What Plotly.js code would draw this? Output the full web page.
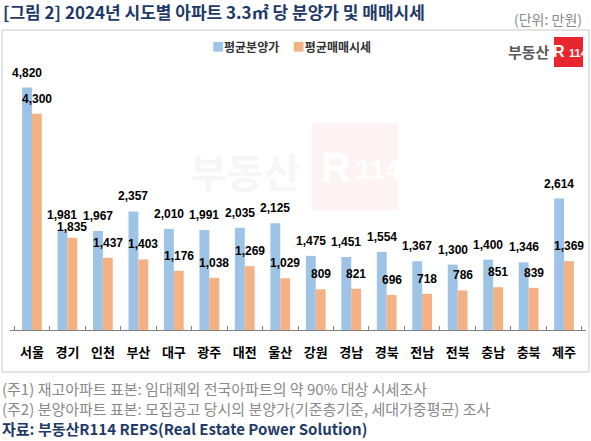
<!DOCTYPE html>
<html><head><meta charset="utf-8">
<script src="https://cdn.plot.ly/plotly-3.0.1.min.js"></script>
<style>html,body{margin:0;padding:0;background:#fff}#c{width:591px;height:441px}</style>
</head><body><div id="c"></div>
<script>
var categories = ['서울','경기','인천','부산','대구','광주','대전','울산','강원','경남','경북','전남','전북','충남','충북','제주'];
var salePrice = [4820,1981,1967,2357,2010,1991,2035,2125,1475,1451,1554,1367,1300,1400,1346,2614];
var marketPrice = [4300,1835,1437,1403,1176,1038,1269,1029,809,821,696,718,786,851,839,1369];
var seriesNames = ['평균분양가','평균매매시세'];

var W=591,H=441, L=10, R=586, T=68, B=330, YMAX=5210;
function px(x){return (x-L)/(R-L);}
function py(y){return (B-y)/(B-T);}
var KR = '"Noto Sans CJK KR", "Noto Sans", sans-serif';
var NUM = '"Liberation Sans", Arial, sans-serif';
var blue='#9DC3E6', orange='#F4B183';
var bargap=0.444, off=(1-bargap)/4;
var pxPerUnit=(B-T)/YMAX, LAB=15, MINSEP=12;

var traces=[
 {type:'bar',name:seriesNames[0],x:categories,y:salePrice,marker:{color:blue},hoverinfo:'skip'},
 {type:'bar',name:seriesNames[1],x:categories,y:marketPrice,marker:{color:orange},hoverinfo:'skip'}
];

var ann=[];
function fmt(v){return v.toLocaleString('en-US');}
var labFont={family:NUM,size:12,color:'#000',weight:'bold'};
salePrice.forEach(function(v,i){
  ann.push({x:i-off,y:v,xref:'x',yref:'y',text:fmt(v),showarrow:false,yanchor:'middle',yshift:LAB,font:labFont});
});
marketPrice.forEach(function(v,i){
  var gap=(salePrice[i]-v)*pxPerUnit, ys=LAB;
  if(gap<MINSEP) ys=LAB-(MINSEP-gap);
  ann.push({x:i+off,y:v,xref:'x',yref:'y',text:fmt(v),showarrow:false,yanchor:'middle',yshift:ys,font:labFont});
});
function pa(x,y,text,font,xa){
  ann.push({xref:'paper',yref:'paper',x:px(x),y:py(y),xanchor:xa||'left',yanchor:'middle',showarrow:false,text:text,font:font});
}
// legend
pa(210,47,'<span style="color:'+blue+'">■</span>'+seriesNames[0]+'\u00a0\u00a0\u00a0\u00a0\u00a0<span style="color:'+orange+'">■</span>'+seriesNames[1],
  {family:KR,size:12,color:'#333',weight:'bold'});
// unit
pa(584,19,'(단위: 만원)',{family:KR,size:14,color:'#8a8a8a'},'right');
// watermark
pa(245,171,'<b>부동산</b>',{family:KR,size:40,color:'#f6f6f6'},'center');
pa(353,167,'R',{family:NUM,size:42,color:'#ffffff',weight:'bold'},'right');
pa(354,169,'114',{family:NUM,size:28,color:'#ffffff',weight:'bold'},'left');
// logo
pa(552,52,'<b>부동산</b>',{family:KR,size:15,color:'#5a5a5a'},'right');
pa(567,52,'R',{family:NUM,size:16,color:'#ffffff',weight:'bold'},'right');
pa(567,53,'114',{family:NUM,size:11,color:'#ffffff',weight:'bold'},'left');
// notes
pa(0,388,'(주1) 재고아파트 표본: 임대제외 전국아파트의 약 90% 대상 시세조사',{family:KR,size:15,color:'#8a8a8a'});
pa(0,408,'(주2) 분양아파트 표본: 모집공고 당시의 분양가(기준층기준, 세대가중평균) 조사',{family:KR,size:15,color:'#8a8a8a'});
pa(0,428,'<b>자료: 부동산R114 REPS(Real Estate Power Solution)</b>',{family:KR,size:15,color:'#1F3A68'});

var shapes=[
 {type:'rect',xref:'paper',yref:'paper',x0:px(2),x1:px(589),y0:py(372),y1:py(30),line:{color:'#c8c8c8',width:1},fillcolor:'rgba(0,0,0,0)',layer:'below'},
 {type:'rect',xref:'paper',yref:'paper',x0:px(312),x1:px(398),y0:py(210),y1:py(123),line:{width:0},fillcolor:'#fef3f3',layer:'below'},
 {type:'rect',xref:'paper',yref:'paper',x0:px(554),x1:px(583),y0:py(67),y1:py(37),line:{width:0},fillcolor:'#E8262D',layer:'below'}
];

var layout={
 width:W,height:H,margin:{l:L,r:W-R,t:T,b:H-B},
 paper_bgcolor:'#fff',plot_bgcolor:'rgba(0,0,0,0)',
 showlegend:false,barmode:'group',bargap:bargap,bargroupgap:0,
 title:{text:'<b>[그림 2] 2024년 시도별 아파트 3.3㎡ 당 분양가 및 매매시세</b>',xref:'container',yref:'container',
   x:3/W,xanchor:'left',y:1-13/H,yanchor:'middle',font:{family:KR,size:17,color:'#1F3A68'}},
 xaxis:{type:'category',showline:true,linecolor:'#808080',linewidth:1,ticks:'inside',tickson:'boundaries',ticklen:4,
   tickcolor:'#808080',showgrid:false,zeroline:false,ticklabelstandoff:10,
   tickfont:{family:KR,size:13,color:'#000',weight:'bold'}},
 yaxis:{range:[0,YMAX],visible:false,showgrid:false,zeroline:false,fixedrange:true},
 annotations:ann,shapes:shapes
};
Plotly.newPlot('c',traces,layout,{displayModeBar:false,staticPlot:true});
</script></body></html>
